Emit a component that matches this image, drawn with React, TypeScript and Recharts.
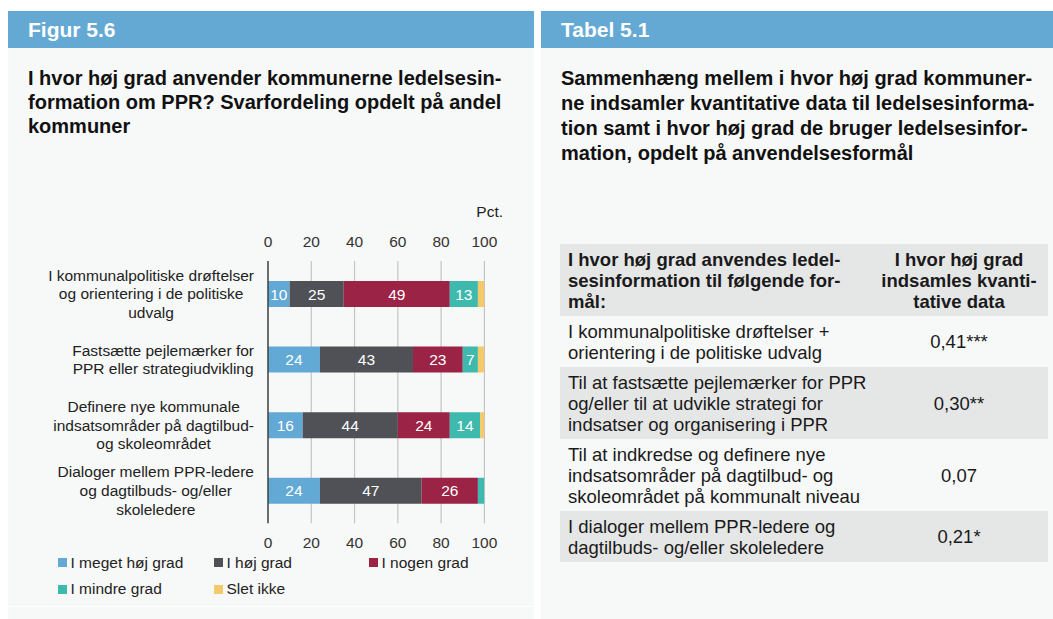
import React from 'react';
import { BarChart, Bar, XAxis, YAxis, CartesianGrid, LabelList } from 'recharts';

// Figur 5.6 – svarfordeling (pct.)
const categories = [
  'I kommunalpolitiske drøftelser\nog orientering i de politiske\nudvalg',
  'Fastsætte pejlemærker for\nPPR eller strategiudvikling',
  'Definere nye kommunale\nindsatsområder på dagtilbud-\nog skoleområdet',
  'Dialoger mellem PPR-ledere\nog dagtilbuds- og/eller\nskoleledere',
];
const megetHoj = [10, 24, 16, 24];
const hoj = [25, 43, 44, 47];
const nogen = [49, 23, 24, 26];
const mindre = [13, 7, 14, 3];
const sletIkke = [3, 3, 2, 0];
const xTicks = [0, 20, 40, 60, 80, 100];
const bandEdges = [0, 1, 2, 3, 4];

const series = [
  { key: 'megetHoj', name: 'I meget høj grad', color: '#62a9d6', values: megetHoj },
  { key: 'hoj', name: 'I høj grad', color: '#4f5156', values: hoj },
  { key: 'nogen', name: 'I nogen grad', color: '#9b2345', values: nogen },
  { key: 'mindre', name: 'I mindre grad', color: '#3dbaad', values: mindre },
  { key: 'slet', name: 'Slet ikke', color: '#f4c96b', values: sletIkke },
];

// Tabel 5.1
const tableHead = [
  'I hvor høj grad anvendes ledel-\nsesinformation til følgende for-\nmål:',
  'I hvor høj grad\nindsamles kvanti-\ntative data',
];
const formaal = [
  'I kommunalpolitiske drøftelser +\norientering i de politiske udvalg',
  'Til at fastsætte pejlemærker for PPR\nog/eller til at udvikle strategi for\nindsatser og organisering i PPR',
  'Til at indkredse og definere nye\nindsatsområder på dagtilbud- og\nskoleområdet på kommunalt niveau',
  'I dialoger mellem PPR-ledere og\ndagtilbuds- og/eller skoleledere',
];
const korrelation = ['0,41', '0,30', '0,07', '0,21'];
const signifikans = ['***', '**', '', '*'];

const data = categories.map((name, i) => {
  const row: Record<string, any> = { name };
  series.forEach((s) => (row[s.key] = s.values[i]));
  return row;
});

const FONT = '"Liberation Sans", Arial, Helvetica, sans-serif';
const BLUE = '#63a9d4';
const PANEL = '#f7f8f8';
const GREY = '#e5e6e6';

let ctx: CanvasRenderingContext2D | null = null;
const measure = (s: string) => {
  if (!ctx) ctx = document.createElement('canvas').getContext('2d');
  if (!ctx) return s.length * 8;
  ctx.font = '15.5px "Liberation Sans"';
  return ctx.measureText(s).width;
};

// label block right-aligned to the axis, lines centred inside the block
const CatTick = (props: any) => {
  const { x, y, payload } = props;
  const lines = String(payload.value).split('\n');
  const block = Math.max(...lines.map(measure));
  const cx = x - block / 2;
  const lh = 18.7;
  const y0 = y - ((lines.length - 1) * lh) / 2;
  return (
    <text x={cx} y={y0} textAnchor="middle" fontSize={15.5} fill="#222" fontFamily={FONT}>
      {lines.map((l, i) => (
        <tspan key={i} x={cx} y={y0 + i * lh} dy="0.36em">
          {l}
        </tspan>
      ))}
    </text>
  );
};

const tickStyle = { fill: '#333', fontSize: 15.5, fontFamily: FONT };

const Lines = ({ text }: { text: string }) => (
  <>
    {text.split('\n').map((l, i) => (
      <div key={i}>{l}</div>
    ))}
  </>
);

export default function App() {
  return (
    <div
      style={{
        position: 'absolute',
        left: 0,
        top: 0,
        width: 1053,
        height: 619,
        background: '#fff',
        fontFamily: FONT,
        color: '#111',
        overflow: 'hidden',
      }}
    >
      {/* venstre panel */}
      <div style={{ position: 'absolute', left: 8, top: 48, width: 526, height: 558, background: PANEL }} />
      <div style={{ position: 'absolute', left: 8, top: 607, width: 526, height: 12, background: PANEL }} />
      <div
        style={{
          position: 'absolute', left: 8, top: 11, width: 526, height: 37, background: BLUE,
          color: '#fff', fontWeight: 'bold', fontSize: 21, lineHeight: '37px', paddingLeft: 20, boxSizing: 'border-box',
        }}
      >
        Figur 5.6
      </div>
      <div style={{ position: 'absolute', left: 28, top: 66, width: 490, fontWeight: 'bold', fontSize: 20, lineHeight: '24px' }}>
        <Lines text={'I hvor høj grad anvender kommunerne ledelsesin-\nformation om PPR? Svarfordeling opdelt på andel\nkommuner'} />
      </div>
      <div style={{ position: 'absolute', left: 440, top: 203, width: 63, textAlign: 'right', fontSize: 15.5, lineHeight: '18px', color: '#222' }}>
        Pct.
      </div>

      <div style={{ position: 'absolute', left: 0, top: 200 }}>
        <BarChart
          width={534}
          height={360}
          data={data}
          layout="vertical"
          margin={{ top: 31, right: 49.6, bottom: 6.7, left: 8 }}
          barSize={26}
        >
          <CartesianGrid xAxisId="bottom" yAxisId="z_cat" horizontal={false} stroke="#c4c4c4" strokeWidth={1.2} />
          <XAxis
            xAxisId="top" orientation="top" type="number" domain={[0, 100]} ticks={xTicks} interval={0} allowDataOverflow
            axisLine={false} tickLine={false} tickSize={0} tickMargin={14} height={30} tick={tickStyle}
          />
          <XAxis
            xAxisId="bottom" orientation="bottom" type="number" domain={[0, 100]} ticks={xTicks} interval={0} allowDataOverflow
            axisLine={false} tickLine={false} tickSize={0} tickMargin={14} height={30} tick={tickStyle}
          />
          <YAxis
            yAxisId="z_cat" type="category" dataKey="name" width={254} interval={0}
            axisLine={false} tickLine={false} tickSize={0} tickMargin={8} tick={<CatTick />}
          />
          <YAxis
            yAxisId="a_edges" type="number" domain={[0, 4]} ticks={bandEdges} interval={0} tick={false} allowDataOverflow
            tickSize={5} width={6} axisLine={{ stroke: '#333', strokeWidth: 1.3 }} tickLine={{ stroke: '#333', strokeWidth: 1.3 }}
          />
          {series.map((s) => (
            <Bar key={s.key} dataKey={s.key} name={s.name} stackId="a" fill={s.color} xAxisId="bottom" yAxisId="z_cat" isAnimationActive={false}>
              <LabelList
                dataKey={s.key}
                position="center"
                fill="#fff"
                fontSize={15.5}
                fontFamily={FONT}
                formatter={(v: any) => (Number(v) >= 5 ? v : '')}
              />
            </Bar>
          ))}
        </BarChart>
      </div>

      {/* forklaring */}
      {series.map((s, i) => {
        const col = i < 3 ? i : i - 3;
        const row = i < 3 ? 0 : 1;
        const left = [57.5, 213.5, 368.5][col];
        const cy = [562.7, 589.3][row];
        return (
          <div key={s.key} style={{ position: 'absolute', left, top: cy - 9, height: 18, display: 'flex', alignItems: 'center', fontSize: 15.5, color: '#222' }}>
            <span style={{ width: 9, height: 9, background: s.color, marginRight: 4, display: 'inline-block' }} />
            <span>{s.name}</span>
          </div>
        );
      })}

      {/* højre panel */}
      <div style={{ position: 'absolute', left: 541, top: 48, width: 512, height: 571, background: PANEL }} />
      <div
        style={{
          position: 'absolute', left: 541, top: 11, width: 512, height: 37, background: BLUE,
          color: '#fff', fontWeight: 'bold', fontSize: 21, lineHeight: '37px', paddingLeft: 20, boxSizing: 'border-box',
        }}
      >
        Tabel 5.1
      </div>
      <div style={{ position: 'absolute', left: 561, top: 66, width: 490, fontWeight: 'bold', fontSize: 20, lineHeight: '25px' }}>
        <Lines text={'Sammenhæng mellem i hvor høj grad kommuner-\nne indsamler kvantitative data til ledelsesinforma-\ntion samt i hvor høj grad de bruger ledelsesinfor-\nmation, opdelt på anvendelsesformål'} />
      </div>

      <div style={{ position: 'absolute', left: 560, top: 244, width: 488, fontSize: 18.5, lineHeight: '21px', color: '#1a1a1a' }}>
        <div style={{ display: 'flex', background: GREY, fontWeight: 'bold', padding: '4.5px 0' }}>
          <div style={{ width: 310, paddingLeft: 8, boxSizing: 'border-box' }}>
            <Lines text={tableHead[0]} />
          </div>
          <div style={{ flex: 1, textAlign: 'center' }}>
            <Lines text={tableHead[1]} />
          </div>
        </div>
        {formaal.map((f, i) => (
          <div key={i} style={{ display: 'flex', background: i % 2 === 1 ? GREY : 'transparent', padding: '4.5px 0' }}>
            <div style={{ width: 310, paddingLeft: 8, boxSizing: 'border-box' }}>
              <Lines text={f} />
            </div>
            <div style={{ flex: 1, display: 'flex', alignItems: 'center', justifyContent: 'center' }}>
              <span>{korrelation[i] + signifikans[i]}</span>
            </div>
          </div>
        ))}
      </div>
    </div>
  );
}
